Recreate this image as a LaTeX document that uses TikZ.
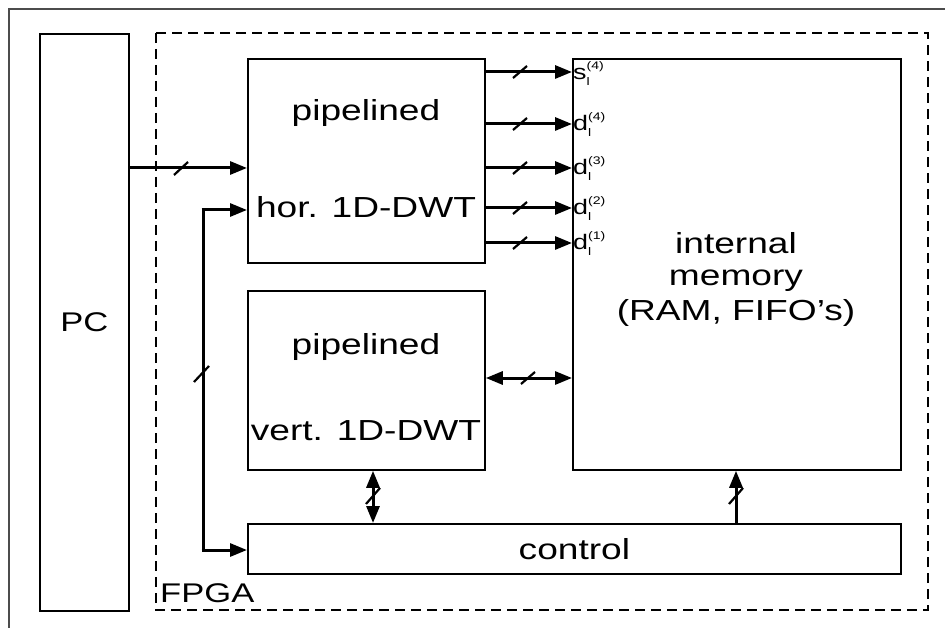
\documentclass[tikz,border=0pt]{standalone}
\usepackage{fontspec}
\setmainfont[FakeStretch=1.28]{Liberation Sans}
\usetikzlibrary{arrows.meta}
\tikzset{
  box/.style={draw, line width=1.8pt, inner sep=0pt},
  conn/.style={line width=3pt, -{Triangle[length=17pt,width=13pt]}},
  conn2/.style={line width=3pt, {Triangle[length=17pt,width=13pt]}-{Triangle[length=17pt,width=13pt]}},
  slashmark/.style={line width=2.2pt},
  big/.style={font=\fontsize{29}{34}\selectfont},
  lab/.style={anchor=west, inner sep=0pt, font=\fontsize{21}{22}\selectfont},
}
\newcommand{\sublab}[2]{#1\rlap{\raisebox{-6pt}{\fontsize{11}{11}\selectfont l}}\raisebox{10pt}{\fontsize{11}{11}\selectfont (#2)}}
\begin{document}
\begin{tikzpicture}[x=1pt,y=-1pt]
\useasboundingbox (0,0) rectangle (945,628);
% outer frame
\draw[line width=2pt, black!70] (9,628) -- (9,9) -- (945,9);
% PC
\node[box, minimum width=89pt, minimum height=577pt, anchor=north west] (pc) at (39,33) {};
\node[font=\fontsize{27}{32}\selectfont] (pct) at (pc.center) {PC};
% FPGA
\draw[line width=1.8pt, dash pattern=on 10pt off 6pt] (156,33) rectangle (928,610);
\node[anchor=south west, inner sep=0pt, font=\fontsize{27}{30}\selectfont] (fpga) at (160,603) {FPGA};
% hor
\node[box, minimum width=237pt, minimum height=204pt, anchor=north west] (hor) at (247,58) {};
\node[big] (hort1) at (366,113) {pipelined};
\node[big] (hort2) at (366,207) {hor. 1D-DWT};
% vert
\node[box, minimum width=237pt, minimum height=179pt, anchor=north west] (vert) at (247,290) {};
\node[big] (vt1) at (366,347) {pipelined};
\node[big] (vt2) at (366,431) {vert. 1D-DWT};
% memory
\node[box, minimum width=328pt, minimum height=411pt, anchor=north west] (mem) at (572,58) {};
\node[big] (m1) at (736,243) {internal};
\node[big] (m2) at (736,281) {memory};
\node[big] (m3) at (736,313) {(RAM, FIFO’s)};
% control
\node[box, minimum width=653pt, minimum height=50pt, anchor=north west] (ctl) at (247,523) {};
\node[big] (ct) at (ctl.center) {control};
% PC -> hor
\draw[conn] (pc.east |- 0,168) -- (hor.west |- 0,168);
\draw[slashmark] (174,175) -- (188,162);
% feedback
\coordinate (fb1) at (203,210);
\coordinate (fb2) at (203,550);
\draw[line width=3pt] (fb1) -- (fb2);
\draw[conn] ([xshift=-1.5pt]fb1) -- (hor.west |- fb1);
\draw[conn] ([xshift=-1.5pt]fb2) -- (ctl.west |- fb2);
\draw[slashmark] (194,382) -- (209,366);
% outputs
\foreach \yy in {72,124,168,208,243}{
  \draw[conn] (hor.east |- 0,\yy) -- (mem.west |- 0,\yy);
  \draw[slashmark] (513,\yy+6) -- (527,\yy-6);
}
\node[lab] (ls4) at (573,74) {\sublab{s}{4}};
\node[lab] (ld4) at (573,125) {\sublab{d}{4}};
\node[lab] (ld3) at (573,169) {\sublab{d}{3}};
\node[lab] (ld2) at (573,209) {\sublab{d}{2}};
\node[lab] (ld1) at (573,244) {\sublab{d}{1}};
% vert <-> mem
\draw[conn2] (vert.east |- 0,378) -- (mem.west |- 0,378);
\draw[slashmark] (521,384) -- (535,372);
% vert <-> control
\draw[conn2] (vert.south -| 373,0) -- (ctl.north -| 373,0);
\draw[slashmark] (366,504) -- (380,488);
% control -> mem
\draw[conn] (ctl.north -| 736,0) -- (mem.south -| 736,0);
\draw[slashmark] (729,504) -- (743,488);
\end{tikzpicture}
\end{document}
